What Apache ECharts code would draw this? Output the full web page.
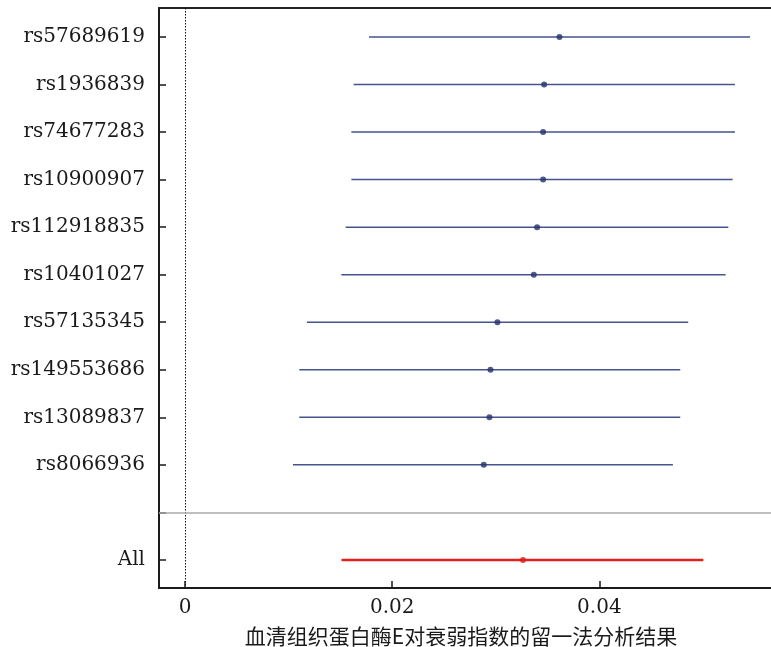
<!DOCTYPE html>
<html>
<head>
<meta charset="utf-8">
<script src="https://cdn.jsdelivr.net/npm/echarts@6/dist/echarts.min.js"></script>
<style>html,body{margin:0;padding:0;background:#fff;}#c{width:771px;height:647px;}</style>
</head>
<body>
<div id="c"></div>
<script>
// Leave-one-out rows (top to bottom); index 10 is the blank separator row, 11 is "All"
const snps = ['rs57689619','rs1936839','rs74677283','rs10900907','rs112918835','rs10401027','rs57135345','rs149553686','rs13089837','rs8066936'];
const rowLabels = snps.concat(['', 'All']);
const estimate = [0.03615,0.03467,0.03457,0.03457,0.03399,0.03367,0.03016,0.02949,0.02939,0.02884];
const lower    = [0.01776,0.01628,0.01606,0.01606,0.01551,0.01509,0.01177,0.01103,0.01103,0.01042];
const upper    = [0.05454,0.05309,0.05309,0.05287,0.05245,0.05219,0.04858,0.04781,0.04781,0.04710];
const allEstimate = 0.03263, allLower = 0.01511, allUpper = 0.05004;
const xTicks = [0, 0.02, 0.04];
const titleText = '血清组织蛋白酶E对衰弱指数的留一法分析结果';

const snpRows = snps.map((s, i) => [lower[i], upper[i], estimate[i], i]);
const allRow = [[allLower, allUpper, allEstimate, 11]];

const serif = 'DejaVu Serif';
const chart = echarts.init(document.getElementById('c'), null, {renderer: 'canvas'});

function ciRender(color, width) {
  return function (params, api) {
    const y = api.value(3);
    const p1 = api.coord([api.value(0), y]);
    const p2 = api.coord([api.value(1), y]);
    return {type: 'line', shape: {x1: p1[0], y1: p1[1], x2: p2[0], y2: p2[1]},
            style: {stroke: color, lineWidth: width}};
  };
}

chart.setOption({
  animation: false,
  backgroundColor: '#fff',
  grid: {left: 159, right: 0, top: 8, bottom: 59, containLabel: false},
  xAxis: [{
    type: 'value', position: 'bottom', min: -0.00251, max: 0.05657,
    axisLine: {show: true, onZero: false, lineStyle: {color: '#1a1a1a', width: 2}},
    axisTick: {show: true, inside: true, length: 7, customValues: xTicks, lineStyle: {color: '#1a1a1a', width: 1.5}},
    axisLabel: {customValues: xTicks, color: '#1a1a1a', fontFamily: serif, fontSize: 20, margin: 10,
      formatter: v => (v === 0 ? '0' : String(+v.toFixed(2)))},
    splitLine: {show: false}
  }, {
    type: 'value', position: 'top', min: -0.00251, max: 0.05657,
    axisLine: {show: true, onZero: false, lineStyle: {color: '#222', width: 2}},
    axisTick: {show: false}, axisLabel: {show: false}, splitLine: {show: false}
  }],
  yAxis: {
    type: 'value', inverse: true, min: -0.61, max: 11.59,
    axisLine: {show: true, onZero: false, lineStyle: {color: '#1a1a1a', width: 2}},
    axisTick: {show: true, inside: true, length: 7, customValues: rowLabels.map((_, i) => i), lineStyle: {color: '#1a1a1a', width: 1.5}},
    axisLabel: {customValues: rowLabels.map((_, i) => i), color: '#1a1a1a', fontFamily: serif, fontSize: 20, margin: 14,
      formatter: v => rowLabels[Math.round(v)]},
    splitLine: {show: false}
  },
  graphic: [{
    type: 'text', x: 461, y: 636,
    style: {text: titleText, fill: '#1a1a1a', font: '21px "Noto Sans CJK SC"', textAlign: 'center', textVerticalAlign: 'middle'}
  }],
  series: [{
    type: 'custom', data: snpRows, renderItem: ciRender('#45548f', 1.5),
    encode: {x: [0, 1], y: 3}, z: 2,
    markLine: {
      silent: true, symbol: 'none', label: {show: false},
      data: [
        {xAxis: 0, lineStyle: {color: '#111', type: [1.5, 1.5], width: 1}},
        {yAxis: 10, lineStyle: {color: '#aaaaaa', type: 'solid', width: 1.5}}
      ]
    }
  }, {
    type: 'custom', data: allRow, renderItem: ciRender('#e3211c', 2.5),
    encode: {x: [0, 1], y: 3}, z: 2
  }, {
    type: 'scatter', data: estimate.map((e, i) => [e, i]), symbol: 'circle', symbolSize: 6,
    itemStyle: {color: '#262f6b'}, z: 3
  }, {
    type: 'scatter', data: [[allEstimate, 11]], symbol: 'circle', symbolSize: 6,
    itemStyle: {color: '#d81e1a'}, z: 3
  }]
});
</script>
</body>
</html>
